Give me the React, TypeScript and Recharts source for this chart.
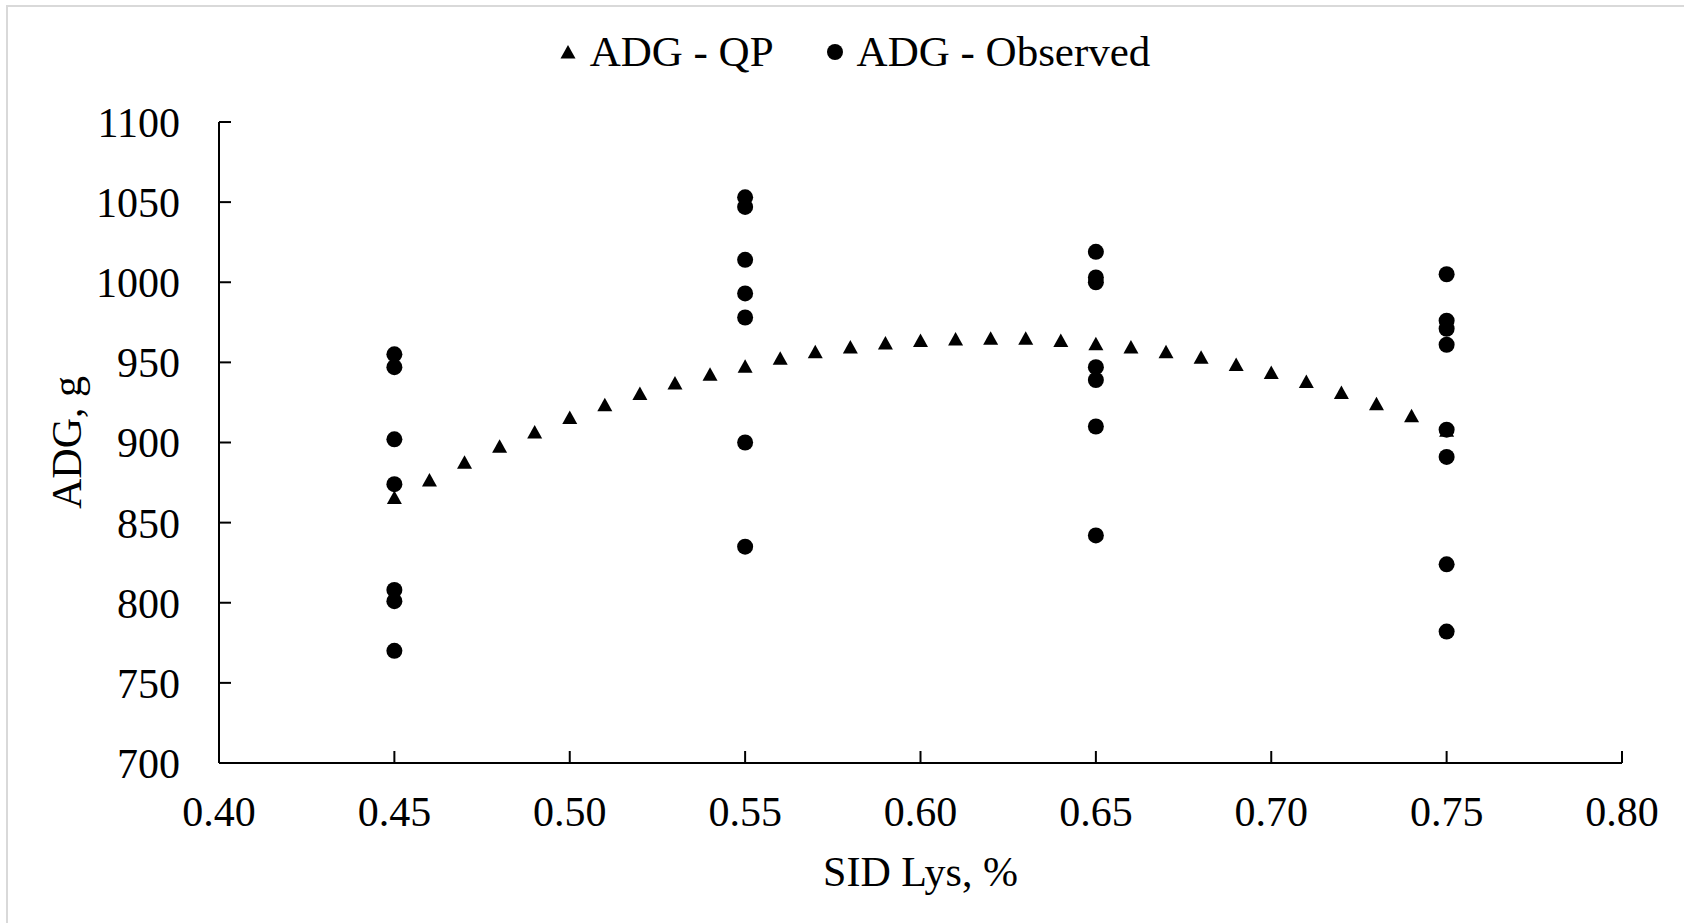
import { ScatterChart, Scatter, XAxis, YAxis, Legend } from 'recharts';

// SID Lys levels for the quadratic prediction (0.45 -> 0.75 by 0.01)
const qpLys = [
  0.45, 0.46, 0.47, 0.48, 0.49, 0.5, 0.51, 0.52, 0.53, 0.54, 0.55,
  0.56, 0.57, 0.58, 0.59, 0.6, 0.61, 0.62, 0.63, 0.64, 0.65, 0.66,
  0.67, 0.68, 0.69, 0.7, 0.71, 0.72, 0.73, 0.74, 0.75,
];
const qpAdg = [
  865, 876, 887, 897, 906, 915, 923, 930, 936.5, 942, 947,
  952, 956, 959, 961.5, 963, 964, 964.5, 964.5, 963, 961, 959,
  956, 952.5, 948, 943, 937.5, 930.5, 923.5, 916, 907,
];

// observed pen means
const obsLys = [
  0.45, 0.45, 0.45, 0.45, 0.45, 0.45, 0.45,
  0.55, 0.55, 0.55, 0.55, 0.55, 0.55, 0.55,
  0.65, 0.65, 0.65, 0.65, 0.65, 0.65, 0.65,
  0.75, 0.75, 0.75, 0.75, 0.75, 0.75, 0.75, 0.75,
];
const obsAdg = [
  955, 947, 902, 874, 808, 801, 770,
  1053, 1047, 1014, 993, 978, 900, 835,
  1019, 1003, 1000, 947, 939, 910, 842,
  1005, 976, 971, 961, 908, 891, 824, 782,
];

const xTicks = [0.4, 0.45, 0.5, 0.55, 0.6, 0.65, 0.7, 0.75, 0.8];
const yTicks = [700, 750, 800, 850, 900, 950, 1000, 1050, 1100];

const FONT = '"Liberation Serif", "Times New Roman", serif';

const qpData = qpLys.map((x, i) => ({ x, y: qpAdg[i] }));
const obsData = obsLys.map((x, i) => ({ x, y: obsAdg[i] }));

const Triangle = (props: any) => {
  const { cx, cy } = props;
  if (cx == null || cy == null) return null;
  return <path d={`M${cx},${cy - 8}L${cx + 7.5},${cy + 5.5}L${cx - 7.5},${cy + 5.5}Z`} fill="#000" />;
};

const Dot = (props: any) => {
  const { cx, cy } = props;
  if (cx == null || cy == null) return null;
  return <circle cx={cx} cy={cy} r={8} fill="#000" />;
};

const LegendContent = () => (
  <div
    style={{
      display: 'flex',
      justifyContent: 'center',
      alignItems: 'center',
      fontFamily: FONT,
      fontSize: 43,
      color: '#000',
      paddingLeft: 26,
    }}
  >
    <svg width={16} height={14} style={{ marginRight: 14 }}>
      <path d="M8,0L15.5,13.5L0.5,13.5Z" fill="#000" />
    </svg>
    <span>ADG - QP</span>
    <svg width={16} height={16} style={{ marginLeft: 53, marginRight: 14 }}>
      <circle cx={8} cy={8} r={8} fill="#000" />
    </svg>
    <span>ADG - Observed</span>
  </div>
);

export default function App() {
  return (
    <div
      style={{
        position: 'absolute',
        left: 0,
        top: 0,
        width: 1684,
        height: 923,
        background: '#fff',
        overflow: 'hidden',
      }}
    >
      <div
        style={{
          position: 'absolute',
          left: 6,
          top: 5,
          width: 1700,
          height: 940,
          borderTop: '2px solid #d9d9d9',
          borderLeft: '2px solid #d9d9d9',
        }}
      />
      <ScatterChart
        width={1684}
        height={923}
        margin={{ top: 122, right: 62, bottom: 0, left: 0 }}
        style={{ position: 'absolute', left: 0, top: 0 }}
      >
        <XAxis
          type="number"
          dataKey="x"
          domain={[0.4, 0.8]}
          ticks={xTicks}
          tickFormatter={(v: number) => v.toFixed(2)}
          height={160}
          stroke="#000"
          strokeWidth={2}
          tickSize={-12}
          tickMargin={45}
          tick={{ fill: '#000', fontSize: 42, fontFamily: FONT }}
          label={{
            value: 'SID Lys, %',
            position: 'center',
            dy: 28,
            fill: '#000',
            fontSize: 42,
            fontFamily: FONT,
          }}
        />
        <YAxis
          type="number"
          dataKey="y"
          domain={[700, 1100]}
          ticks={yTicks}
          width={219}
          stroke="#000"
          strokeWidth={2}
          tickSize={-12}
          tickMargin={51}
          tick={{ fill: '#000', fontSize: 42, fontFamily: FONT }}
          label={{
            value: 'ADG, g',
            angle: -90,
            position: 'center',
            dx: -43,
            fill: '#000',
            fontSize: 42,
            fontFamily: FONT,
          }}
        />
        <Legend
          layout="vertical"
          verticalAlign="middle"
          align="center"
          wrapperStyle={{ top: 27, left: 0, width: 1684 }}
          content={LegendContent}
        />
        <Scatter name="ADG - QP" data={qpData} shape={Triangle} isAnimationActive={false} />
        <Scatter name="ADG - Observed" data={obsData} shape={Dot} isAnimationActive={false} />
      </ScatterChart>
    </div>
  );
}
